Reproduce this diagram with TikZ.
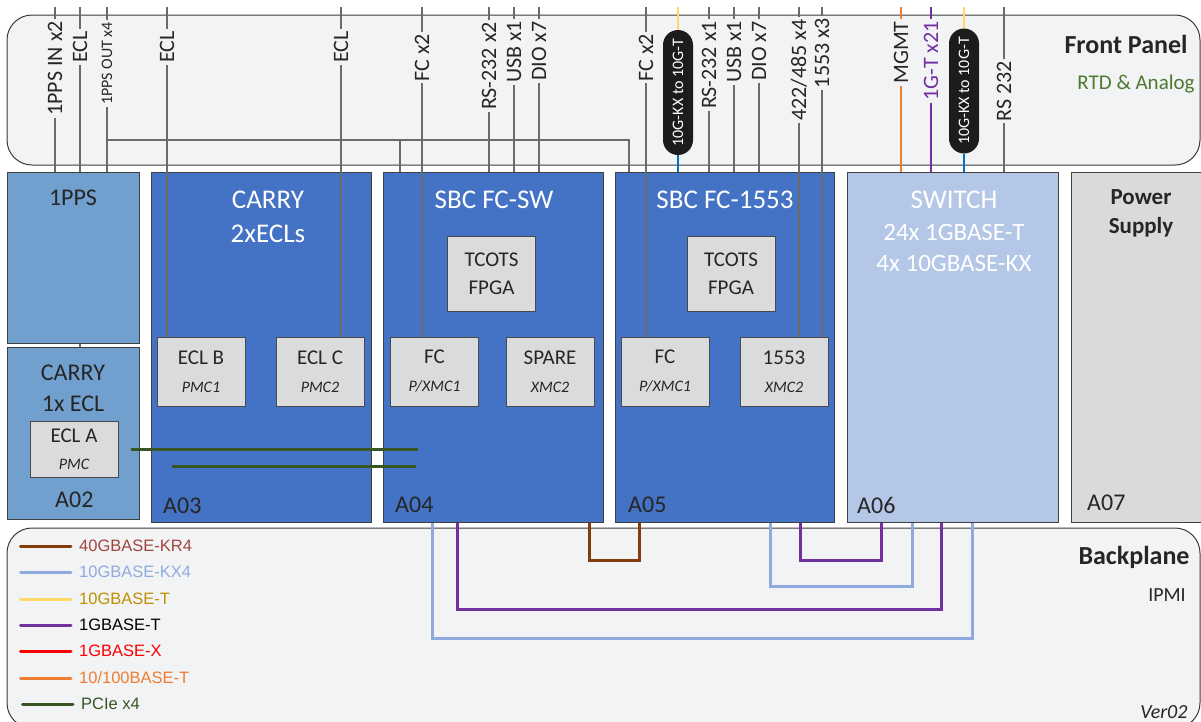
\documentclass[tikz,border=0pt]{standalone}
\usepackage{fontspec}
\setmainfont{Carlito}
\newfontfamily\legendfont{Liberation Sans}
\usetikzlibrary{calc}
\definecolor{panelbg}{HTML}{F2F3F5}
\definecolor{shellline}{HTML}{3A3A3A}
\definecolor{slotline}{HTML}{404040}
\definecolor{ppsblue}{HTML}{71A0CF}
\definecolor{sbcblue}{HTML}{4472C4}
\definecolor{swblue}{HTML}{B4C7E7}
\definecolor{psugray}{HTML}{DADADA}
\definecolor{cardfill}{HTML}{DADBDD}
\definecolor{cardline}{HTML}{4A4A4A}
\definecolor{wiregray}{HTML}{6B6B6B}
\definecolor{darktext}{HTML}{262626}
\definecolor{kr4brown}{HTML}{843C0C}
\definecolor{kr4text}{HTML}{A0463C}
\definecolor{kx4blue}{HTML}{8FAADC}
\definecolor{tenTyellow}{HTML}{FFD966}
\definecolor{tenTtext}{HTML}{BF9000}
\definecolor{gigpurple}{HTML}{7030A0}
\definecolor{gigxred}{HTML}{FF0000}
\definecolor{mgmtorange}{HTML}{ED7D31}
\definecolor{pciegreen}{HTML}{375623}
\definecolor{rtdgreen}{HTML}{4E7A2F}
\definecolor{kxlink}{HTML}{0070C0}
\definecolor{pillblack}{HTML}{1C1C1C}
\newcommand{\setfs}[2]{\fontsize{#1}{#2}\selectfont}

\begin{document}
\begin{tikzpicture}[x=1pt, y=-1pt,
  shell/.style={draw=shellline, fill=panelbg, line width=1pt, rounded corners=25pt},
  slot/.style={rectangle, draw=slotline, line width=1pt, inner sep=0pt},
  card/.style={rectangle, draw=cardline, fill=cardfill, line width=1pt,
               minimum width=88pt, align=center, text=darktext, font=\setfs{21}{24}},
  ttl/.style={align=center, inner sep=0pt, font=\setfs{27}{34}},
  slotid/.style={anchor=west, inner sep=0pt, text=darktext, font=\setfs{24}{28}},
  plbl/.style={rotate=90, inner sep=2pt, text=darktext, font=\setfs{22}{24}},
  pill/.style={rectangle, rotate=90, rounded corners=15pt, fill=pillblack, text=white,
               minimum width=125pt, minimum height=30pt, inner sep=0pt, font=\setfs{16}{18}},
  wire/.style={draw=wiregray, line width=2.5pt},
  bus/.style={line width=3pt},
  lgline/.style={line width=3pt, line cap=round},
  lgtext/.style={anchor=west, inner sep=0pt, font=\legendfont\setfs{16.5}{19}}
]
\useasboundingbox (0,0) rectangle (1201,721);

% front panel and backplane
\draw[shell] (7,15) rectangle (1200,165);
\draw[shell] (7,528) rectangle (1200,728);
\node[font=\bfseries\setfs{26}{30}, text=darktext] (fptitle) at (1126,44) {Front Panel};
\node[font=\setfs{21}{24}, text=rtdgreen] (rtd) at (1136,84) {RTD \& Analog};
\node[font=\bfseries\setfs{26}{30}, text=darktext] (bptitle) at (1134,557) {Backplane};
\node[font=\setfs{20}{24}, text=darktext] (ipmi) at (1167,595) {IPMI};
\node[font=\itshape\setfs{20}{24}, text=darktext, anchor=east] (ver) at (1191,712) {Ver02};

% slots
\node[slot, fill=ppsblue, minimum width=132pt, minimum height=171pt] (a01) at (73,257.5) {};
\node[slot, fill=ppsblue, minimum width=132pt, minimum height=172pt] (a02) at (73,433) {};
\node[slot, fill=sbcblue, minimum width=220pt, minimum height=350pt] (a03) at (261,347) {};
\node[slot, fill=sbcblue, minimum width=220pt, minimum height=350pt] (a04) at (493,347) {};
\node[slot, fill=sbcblue, minimum width=219pt, minimum height=350pt] (a05) at (724.5,347) {};
\node[slot, fill=swblue,  minimum width=211pt, minimum height=350pt] (a06) at (952.5,347) {};
\node[slot, fill=psugray, minimum width=135pt, minimum height=350pt] (a07) at (1138.5,347) {};

\node[ttl, text=darktext, font=\setfs{24}{28}] (t01) at (73,198) {1PPS};
\node[ttl, text=darktext, font=\setfs{24}{31}] (t02) at (73,388) {CARRY\\1x ECL};
\node[ttl, text=white] (t03) at (268,217) {CARRY\\2xECLs};
\node[ttl, text=white] (t04) at (494,200) {SBC FC-SW};
\node[ttl, text=white] (t05) at (725,200) {SBC FC-1553};
\node[ttl, text=white] (t06) at (954,200) {SWITCH};
\node[ttl, text=white, font=\setfs{25}{31}] (t06b) at (954,248) {24x 1GBASE-T\\4x 10GBASE-KX};
\node[ttl, text=darktext, font=\bfseries\setfs{23}{29}] (t07) at (1141,213.5) {Power\\Supply};

\node[slotid] (id02) at (55,500) {A02};
\node[slotid] (id03) at (163,506) {A03};
\node[slotid] (id04) at (395,505) {A04};
\node[slotid] (id05) at (628,505) {A05};
\node[slotid] (id06) at (857,505) {A06};
\node[slotid] (id07) at (1087,503) {A07};

% front panel connectors
\draw[wire] ([xshift=7pt]a01.south) -- ([xshift=7pt]a02.north);

\node[plbl] (ppsin) at (55,68.5) {1PPS IN x2};
\draw[wire] (55,7) -- (ppsin) -- (ppsin |- a01.north);
\node[plbl] (ecl1) at (80,47) {ECL};
\draw[wire] (80,7) -- (ecl1) -- (ecl1 |- a01.north);
\node[plbl, font=\setfs{16}{18}] (ppsout) at (107,63.5) {1PPS OUT x4};
\draw[wire] (107,7) -- (ppsout) -- (ppsout |- a01.north);
\coordinate (busl) at (107,140);
\coordinate (bus4) at (400,140);
\coordinate (busr) at (629,140);
\draw[wire] (busl) -- (busr) -- (busr |- a05.north);
\draw[wire] (bus4) -- (bus4 |- a04.north);

\node[plbl] (ecl2) at (167,47) {ECL};
\node[plbl] (ecl3) at (341,47) {ECL};
\node[plbl] (fc4x) at (422,57.5) {FC x2};
\node[plbl] (rs4) at (489,66) {RS-232 x2};
\node[plbl] (usb4) at (514,52) {USB x1};
\node[plbl] (dio4) at (539,51) {DIO x7};
\node[plbl] (fc5x) at (646,57.5) {FC x2};
\node[plbl] (rs5) at (709,65) {RS-232 x1};
\node[plbl] (usb5) at (734,52) {USB x1};
\node[plbl] (dio5) at (759,51) {DIO x7};
\node[plbl] (s422) at (799,70) {422/485 x4};
\node[plbl] (s1553) at (822,53) {1553 x3};
\node[plbl] (mgmt) at (901,52.5) {MGMT};
\node[plbl, text=gigpurple] (gig) at (931,61) {1G-T x21};
\node[plbl] (rs6) at (1004,91) {RS 232};
\node[pill] (cv5) at (678,92.5) {10G-KX to 10G-T};
\node[pill] (cv6) at (964,91) {10G-KX to 10G-T};

% mezzanine cards
\node[card, minimum height=56pt] (ecla) at (74,449) {ECL A\\[3pt]{\setfs{16}{19}\itshape PMC}};
\node[card, minimum height=69pt] (eclb) at (201,371.5) {ECL B\\[4pt]{\setfs{16}{19}\itshape PMC1}};
\node[card, minimum height=69pt] (eclc) at (320,371.5) {ECL C\\[4pt]{\setfs{16}{19}\itshape PMC2}};
\node[card, minimum height=69pt] (fc4) at (434.5,371.5) {FC\\[4pt]{\setfs{16}{19}\itshape P/XMC1}};
\node[card, minimum height=69pt] (spare) at (550,371.5) {SPARE\\[4pt]{\setfs{16}{19}\itshape XMC2}};
\node[card, minimum height=69pt] (fc5) at (665,371.5) {FC\\[4pt]{\setfs{16}{19}\itshape P/XMC1}};
\node[card, minimum height=69pt] (c1553) at (784,371.5) {1553\\[4pt]{\setfs{16}{19}\itshape XMC2}};
\node[card, minimum height=75pt, font=\setfs{21}{28}] (fpga4) at (491.5,273.5) {TCOTS\\FPGA};
\node[card, minimum height=75pt, font=\setfs{21}{28}] (fpga5) at (731,273.5) {TCOTS\\FPGA};

\draw[wire] (167,7) -- (ecl2) -- (ecl2 |- eclb.north);
\draw[wire] (341,7) -- (ecl3) -- (ecl3 |- eclc.north);
\draw[wire] (422,7) -- (fc4x) -- (fc4x |- fc4.north);
\draw[wire] (489,7) -- (rs4) -- (rs4 |- a04.north);
\draw[wire] (514,7) -- (usb4) -- (usb4 |- a04.north);
\draw[wire] (539,7) -- (dio4) -- (dio4 |- a04.north);
\draw[wire] (646,7) -- (fc5x) -- (fc5x |- fc5.north);
\draw[wire] (709,7) -- (rs5) -- (rs5 |- a05.north);
\draw[wire] (734,7) -- (usb5) -- (usb5 |- a05.north);
\draw[wire] (759,7) -- (dio5) -- (dio5 |- a05.north);
\draw[wire] (799,7) -- (s422) -- (s422 |- c1553.north);
\draw[wire] (822,7) -- (s1553) -- (s1553 |- c1553.north);
\draw[wire, draw=mgmtorange] (901,7) -- (mgmt) -- (mgmt |- a06.north);
\draw[wire, draw=gigpurple] (931,7) -- (gig) -- (gig |- a06.north);
\draw[wire] (1004,7) -- (rs6) -- (rs6 |- a06.north);
\draw[wire, draw=tenTyellow] (678,7) -- (cv5);
\draw[wire, draw=kxlink] (cv5) -- (cv5 |- a05.north);
\draw[wire, draw=tenTyellow] (964,7) -- (cv6);
\draw[wire, draw=kxlink] (cv6) -- (cv6 |- a06.north);

% PCIe x4 links
\draw[bus, draw=pciegreen] ([xshift=12pt]ecla.east) -- (418,449);
\draw[bus, draw=pciegreen] (172,466) -- (416,466);

% backplane links
\draw[bus, draw=kx4blue] ($(a04.south west)+(50,0)$) -- ++(0,116) -| ($(a06.south west)+(126,0)$);
\draw[bus, draw=gigpurple] ($(a04.south west)+(75,0)$) -- ++(0,87) -| ($(a06.south west)+(95,0)$);
\draw[bus, draw=kr4brown] ($(a04.south west)+(207,0)$) -- ++(0,38) -| ($(a05.south west)+(25,0)$);
\draw[bus, draw=kx4blue] ($(a05.south west)+(156,0)$) -- ++(0,64) -| ($(a06.south west)+(66,0)$);
\draw[bus, draw=gigpurple] ($(a05.south west)+(186,0)$) -- ++(0,38) -| ($(a06.south west)+(35,0)$);

% legend
\node[lgtext, text=kr4text] (lg1) at (79,546) {40GBASE-KR4};
\node[lgtext, text=kx4blue] (lg2) at (79,572) {10GBASE-KX4};
\node[lgtext, text=tenTtext] (lg3) at (79,599) {10GBASE-T};
\node[lgtext, text=black] (lg4) at (79,625) {1GBASE-T};
\node[lgtext, text=gigxred] (lg5) at (79,651) {1GBASE-X};
\node[lgtext, text=mgmtorange] (lg6) at (79,678) {10/100BASE-T};
\node[lgtext, text=pciegreen] (lg7) at (81,704) {PCIe x4};
\draw[lgline, kr4brown] (20.5,546) -- (71,546);
\draw[lgline, kx4blue] (20.5,572) -- (71,572);
\draw[lgline, tenTyellow] (20.5,599) -- (71,599);
\draw[lgline, gigpurple] (20.5,625) -- (71,625);
\draw[lgline, gigxred] (20.5,651) -- (71,651);
\draw[lgline, mgmtorange] (20.5,678) -- (71,678);
\draw[lgline, pciegreen] (22.5,704) -- (73,704);
\end{tikzpicture}
\end{document}
